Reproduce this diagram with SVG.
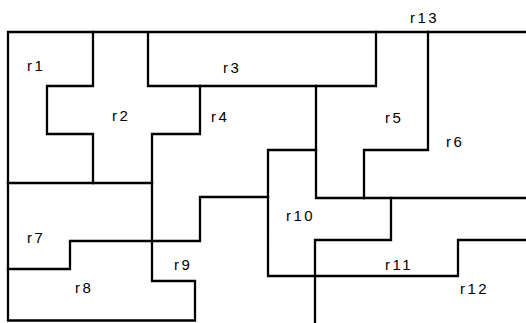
<svg xmlns="http://www.w3.org/2000/svg" width="526" height="323" viewBox="0 0 526 323">
<style>
.l{fill:none;stroke:#000;stroke-width:2.3;stroke-linecap:square;stroke-linejoin:miter}
.t{font-family:"Liberation Sans",Arial,sans-serif;font-size:15px;letter-spacing:2.5px;fill:#000}
</style>
<rect width="526" height="323" fill="#fff"/>
<g id="lines">
<path class="l" d="M526 32 H8 V320.5 H195 V281 H152 V134 H200 V86 H148 V32"/>
<path class="l" d="M93 32 V86 H47 V134 H93 V183"/>
<path class="l" d="M8 183 H152"/>
<path class="l" d="M200 86 H376 V32"/>
<path class="l" d="M316 86 V198 H526"/>
<path class="l" d="M428 32 V150 H364 V198"/>
<path class="l" d="M8 269 H70 V241 H200 V197 H268"/>
<path class="l" d="M316 150 H268 V276 H458 V240 H526"/>
<path class="l" d="M391 198 V240 H315 V323"/>
</g>
<g id="labels">
<text class="t" x="27" y="71">r1</text>
<text class="t" x="112" y="121">r2</text>
<text class="t" x="223" y="73">r3</text>
<text class="t" x="211" y="122">r4</text>
<text class="t" x="385" y="123">r5</text>
<text class="t" x="446" y="147">r6</text>
<text class="t" x="27" y="243">r7</text>
<text class="t" x="75" y="293">r8</text>
<text class="t" x="174" y="270">r9</text>
<text class="t" x="286" y="221">r10</text>
<text class="t" x="385" y="270">r11</text>
<text class="t" x="460" y="294">r12</text>
<text class="t" x="410" y="23">r13</text>
</g>
</svg>
